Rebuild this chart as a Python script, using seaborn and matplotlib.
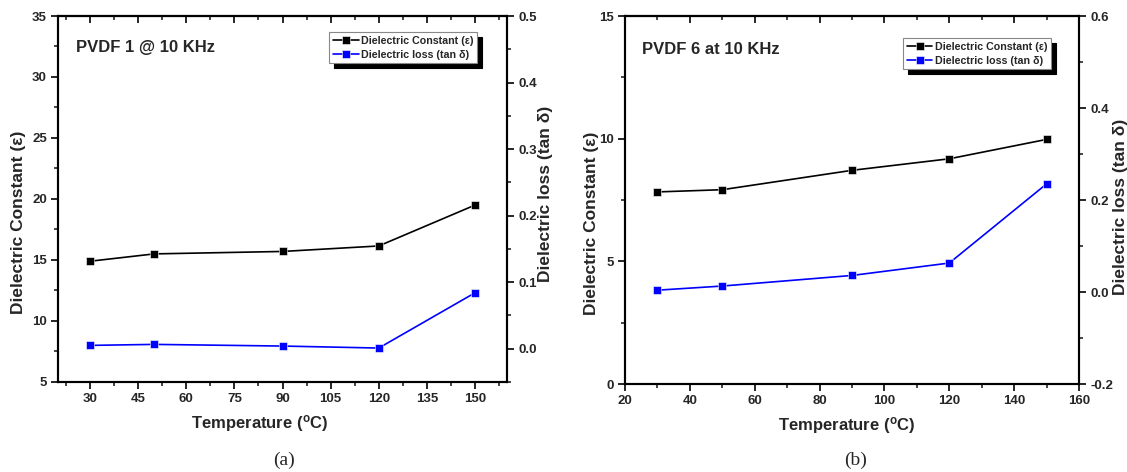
import pandas as pd
import seaborn as sns
import matplotlib.pyplot as plt
from matplotlib.ticker import MultipleLocator

# dados
temperatura = [30, 50, 90, 120, 150]

# painel (a) - PVDF 1
const_a = [14.9, 15.5, 15.7, 16.15, 19.5]
perda_a = [0.005, 0.0065, 0.004, 0.001, 0.084]

# painel (b) - PVDF 6
const_b = [7.83, 7.92, 8.71, 9.18, 9.97]
perda_b = [0.004, 0.013, 0.036, 0.063, 0.235]

sns.set_theme(style="ticks")
plt.rcParams['font.family'] = ['Liberation Sans', 'DejaVu Sans']
plt.rcParams['font.weight'] = 'bold'
plt.rcParams['mathtext.fontset'] = 'custom'
plt.rcParams['mathtext.rm'] = 'Liberation Sans:bold'
plt.rcParams['mathtext.default'] = 'rm'

fig = plt.figure(figsize=(11.27, 4.72), dpi=100)
ax_a = fig.add_axes([0.0515, 0.1907, 0.3984, 0.7754])
ax_b = fig.add_axes([0.5546, 0.1864, 0.4028, 0.7797])


def painel(ax, const, perda, titulo, tit_xy, ylim, yt, ylim2, yt2, xticks, xminor,
           letra, letra_xy, leg_xy, pad_esq, pad_dir, pos_rotulos):
    df = pd.DataFrame({"T": temperatura, "c": const, "p": perda})
    ax2 = ax.twinx()
    sns.lineplot(data=df, x="T", y="c", ax=ax, color="black", marker="s",
                 markersize=5.8, markeredgecolor="white", markeredgewidth=0.4,
                 linewidth=1.2, label="Dielectric Constant (\u03b5)", legend=False)
    sns.lineplot(data=df, x="T", y="p", ax=ax2, color="blue", marker="s",
                 markersize=5.8, markeredgecolor="white", markeredgewidth=0.4,
                 linewidth=1.2, label="Dielectric loss (tan \u03b4)", legend=False)

    ax.set_xlim(20, 160)
    ax.set_ylim(*ylim)
    ax2.set_ylim(*ylim2)
    ax.set_xticks(xticks)
    ax.xaxis.set_minor_locator(MultipleLocator(xminor))
    ax.set_yticks(yt)
    ax.yaxis.set_minor_locator(MultipleLocator((yt[1] - yt[0]) / 2))
    ax2.set_yticks(yt2)
    ax2.yaxis.set_minor_locator(MultipleLocator((yt2[1] - yt2[0]) / 2))
    ax2.set_yticklabels([f"{v:.1f}" for v in yt2])

    for a in (ax, ax2):
        for s in a.spines.values():
            s.set_linewidth(1.5)
            s.set_color("black")
        a.tick_params(which="major", direction="out", length=5, width=1.4, labelsize=9.5, pad=3)
        a.tick_params(which="minor", direction="out", length=2.8, width=1.2)

    # ticks do topo para dentro
    top = ax.secondary_xaxis("top")
    top.set_xticks(xticks)
    top.xaxis.set_minor_locator(MultipleLocator(xminor))
    top.tick_params(which="major", direction="in", length=5, width=1.4, labeltop=False)
    top.tick_params(which="minor", direction="in", length=2.8, width=1.2)
    top.spines["top"].set_linewidth(1.5)

    ax.set_xlabel("Temperature ($^{\\mathrm{o}}$C)", fontsize=12, fontweight="bold", labelpad=6)
    ax.set_ylabel("Dielectric Constant (\u03b5)", fontsize=12.5, fontweight="bold", labelpad=pad_esq)
    ax2.set_ylabel("Dielectric loss (tan \u03b4)", fontsize=12.5, fontweight="bold", labelpad=pad_dir)
    # posição dos rótulos ao longo do eixo (no original não estão centrados)
    ax.xaxis.label.set_x(pos_rotulos[0])
    ax.yaxis.label.set_y(pos_rotulos[1])
    ax2.yaxis.label.set_y(pos_rotulos[2])

    ax.text(tit_xy[0], tit_xy[1], titulo, transform=ax.transAxes, fontsize=12,
            fontweight="bold", ha="left", va="center")

    h1, l1 = ax.get_legend_handles_labels()
    h2, l2 = ax2.get_legend_handles_labels()
    leg = ax2.legend(h1 + h2, l1 + l2, loc="upper right", bbox_to_anchor=leg_xy,
                     fontsize=7.7, frameon=True, fancybox=False, numpoints=1,
                     handlelength=2.4, handletextpad=0.2, borderpad=0.35,
                     labelspacing=0.35, borderaxespad=0,
                     shadow={"color": "black", "alpha": 1, "ox": 3.5, "oy": -3.5})
    leg.get_frame().set_edgecolor("#888888")
    leg.get_frame().set_linewidth(0.8)

    ax.text(letra_xy[0], letra_xy[1], letra, transform=ax.transAxes, fontsize=14,
            family="Liberation Serif", fontweight="normal", ha="center", va="center")


painel(ax_a, const_a, perda_a, "PVDF 1 @ 10 KHz", (0.040, 0.915),
       (5, 35), [5, 10, 15, 20, 25, 30, 35],
       (-0.05, 0.5), [0.0, 0.1, 0.2, 0.3, 0.4, 0.5],
       [30, 45, 60, 75, 90, 105, 120, 135, 150], 7.5, "(a)", (0.503, -0.213),
       (0.933, 0.956), 4, 1, (0.45, 0.437, 0.514))
painel(ax_b, const_b, perda_b, "PVDF 6 at 10 KHz", (0.037, 0.910),
       (0, 15), [0, 5, 10, 15],
       (-0.2, 0.6), [-0.2, 0.0, 0.2, 0.4, 0.6],
       [20, 40, 60, 80, 100, 120, 140, 160], 10, "(b)", (0.507, -0.2065),
       (0.938, 0.940), 0, 0, (0.489, 0.4375, 0.481))

plt.savefig("out.png", dpi=100)
